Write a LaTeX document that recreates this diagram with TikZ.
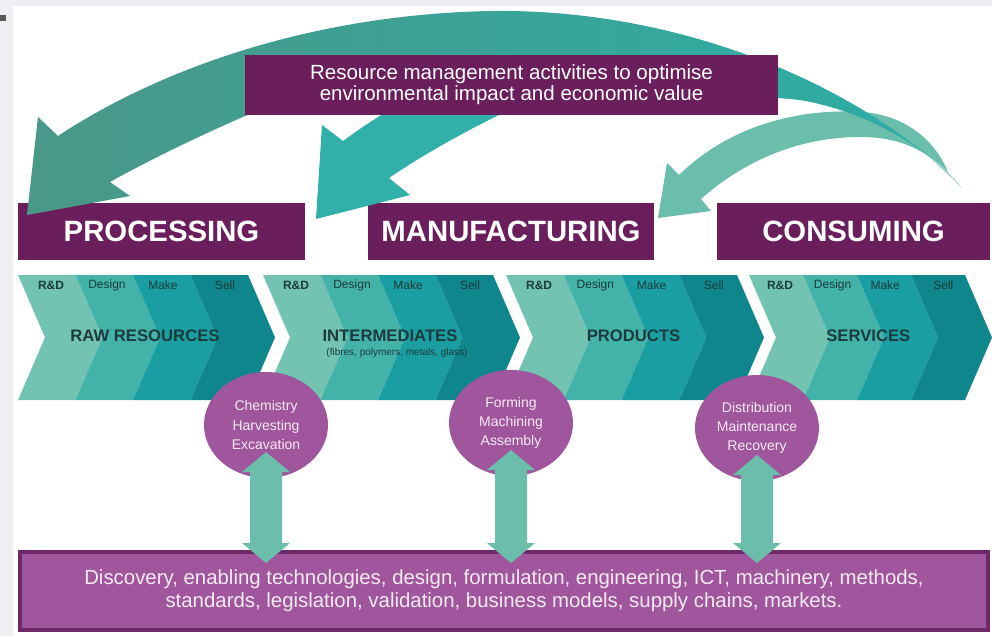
\documentclass[tikz,border=0pt]{standalone}
\usepackage{fontspec}
\setmainfont{Liberation Sans}
\usetikzlibrary{shapes.geometric,calc}

\definecolor{framegrey}{HTML}{EDEFF3}
\definecolor{markgrey}{HTML}{5A5A5A}
\definecolor{deeppurple}{HTML}{6A1F5C}
\definecolor{softpurple}{HTML}{A0569C}
\definecolor{boxedge}{HTML}{6E2A68}
\definecolor{arcleft}{HTML}{4A9888}
\definecolor{arcright}{HTML}{2BAEA6}
\definecolor{midarrow}{HTML}{30B0A8}
\definecolor{mintarrow}{HTML}{6CBEAC}
\definecolor{band1}{HTML}{72C3B1}
\definecolor{band2}{HTML}{43B3AA}
\definecolor{band3}{HTML}{1A9EA2}
\definecolor{band4}{HTML}{0E868C}
\definecolor{bandtext}{HTML}{1B3B3C}
\definecolor{paletext}{HTML}{F6EAF4}

\begin{document}
\begin{tikzpicture}[x=0.75pt,y=-0.75pt,
  hdr/.style={fill=deeppurple,text=white,inner sep=0pt,minimum height=42.75pt,
    font=\fontsize{22}{26}\selectfont\bfseries},
  resbox/.style={fill=deeppurple,text=white,inner sep=0pt,align=center,
    minimum width=399.75pt,minimum height=45pt,font=\fontsize{15.4}{16}\selectfont},
  stage/.style={inner sep=0pt,text=bandtext,font=\fontsize{9}{10}\selectfont},
  stagebold/.style={inner sep=0pt,text=bandtext,font=\fontsize{9}{10}\selectfont\bfseries},
  flow/.style={inner sep=0pt,text=bandtext,font=\fontsize{12.5}{14}\selectfont\bfseries},
  flownote/.style={inner sep=0pt,text=bandtext,font=\fontsize{7.5}{8}\selectfont},
  activity/.style={ellipse,fill=softpurple,text=paletext,inner sep=0pt,align=center,
    minimum width=93pt,minimum height=79.5pt,font=\fontsize{10.5}{14.5}\selectfont},
  basebox/.style={fill=softpurple,draw=boxedge,line width=3pt,text=paletext,align=center,
    minimum width=726pt,minimum height=58.5pt,inner sep=0pt,font=\fontsize{15.3}{17.5}\selectfont},
  linkarrow/.style={fill=mintarrow}
]
\useasboundingbox (0,0) rectangle (992,636);

% page frame
\fill[framegrey] (0,0) rectangle (992,636);
\fill[white] (13,6) rectangle (992,636);
\fill[markgrey] (0,15) rectangle (6,21);

% value chain: four chevrons, each split into four stage bands
\foreach \x/\w/\nm/\lbl in {18/230/raw/RAW RESOURCES, 263/230/inter/INTERMEDIATES,
                            506/231/prod/PRODUCTS, 749/216/serv/SERVICES}{
  \foreach \k/\col in {0/band1,1/band2,2/band3,3/band4}{
    \pgfmathsetmacro\ba{\x+\k*\w/4}
    \pgfmathsetmacro\bb{\x+(\k+1)*\w/4}
    \fill[\col] (\ba,275) -- (\bb,275) -- (\bb+27,337.5) -- (\bb,400)
                -- (\ba,400) -- (\ba+27,337.5) -- cycle;
  }
  \pgfmathsetmacro\sc{\w/230}
  \node[stagebold] (\nm-rd) at (\x+33*\sc,285) {R\&D};
  \node[stage] (\nm-design) at (\x+89*\sc,285) {Design};
  \node[stage] (\nm-make) at (\x+145*\sc,285) {Make};
  \node[stage] (\nm-sell) at (\x+207*\sc,285) {Sell};
  \node[flow] (\nm) at (\x+127*\sc,336) {\lbl};
}
\node[flownote] (inter-note) at (397,353) {(fibres, polymers, metals, glass)};

% sector headers
\node[hdr,minimum width=215.25pt] (processing) at (161.5,231.5) {PROCESSING};
\node[hdr,minimum width=214.5pt] (manufacturing) at (511,231.5) {MANUFACTURING};
\node[hdr,minimum width=204.75pt] (consuming) at (853.5,231.5) {CONSUMING};

% activities and the shared knowledge base
\node[activity] (chem) at (266,425) {Chemistry\\Harvesting\\Excavation};
\node[activity] (form) at (511,423) {Forming\\Machining\\Assembly};
\node[activity] (dist) at (757,428) {Distribution\\Maintenance\\Recovery};

\node[basebox] (base) at (504,591) {Discovery, enabling technologies, design, formulation, engineering, ICT, machinery, methods,\\
  standards, legislation, validation, business models, supply chains, markets.};

% two-way links between each activity and the knowledge base
\foreach \c in {chem,form,dist}{
  \fill[linkarrow] let \p1=($(\c.center)+(0,27)$), \p2=(\c.center |- base.north) in
    (\x1,\y1) -- (\x1+18pt,\y1-15pt) -- (\x1+12pt,\y1-15pt)
    -- (\x1+12pt,\y2+5.25pt) -- (\x1+18pt,\y2+5.25pt) -- (\x1,\y2-9.75pt)
    -- (\x1-18pt,\y2+5.25pt) -- (\x1-12pt,\y2+5.25pt)
    -- (\x1-12pt,\y1-15pt) -- (\x1-18pt,\y1-15pt) -- cycle;
}

% feedback loops: consuming back to manufacturing
\fill[mintarrow] (658,218) -- (667,163) -- (679,175)
  .. controls (730,125) and (800,108) .. (862,112)
  .. controls (905,115) and (935,140) .. (948,172)
  .. controls (925,150) and (900,137) .. (860,137)
  .. controls (800,137) and (745,160) .. (701,199)
  -- (711,211) -- cycle;

% consuming back to processing
\shade[left color=arcleft,right color=arcright] (27,215) -- (38,117) -- (58,136)
  .. controls (150,75) and (300,15) .. (490,11)
  .. controls (700,8) and (880,100) .. (962,188)
  .. controls (930,150) and (870,112) .. (800,100)
  .. controls (600,80) and (330,80) .. (245,116)
  .. controls (190,140) and (140,165) .. (110,182)
  -- (130,196) -- cycle;

% back to manufacturing from under the resource box
\fill[midarrow] (316,219) -- (322,125) -- (343,141)
  .. controls (365,125) and (400,100) .. (460,75)
  -- (600,70)
  .. controls (500,110) and (430,150) .. (389,178)
  -- (410,195) -- cycle;

\node[resbox] (resource) at (511.5,85)
  {Resource management activities to optimise\\environmental impact and economic value};
\end{tikzpicture}
\end{document}
